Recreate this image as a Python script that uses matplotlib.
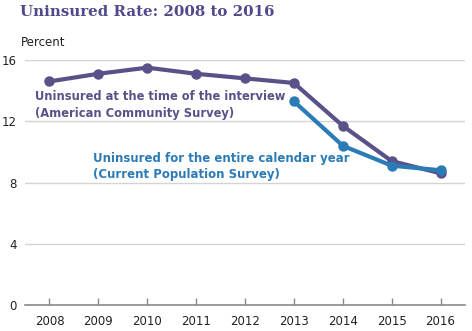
import matplotlib
matplotlib.use("Agg")
import matplotlib.pyplot as plt

years = [2008, 2009, 2010, 2011, 2012, 2013, 2014, 2015, 2016]
acs_rate = [14.6, 15.1, 15.5, 15.1, 14.8, 14.5, 11.7, 9.4, 8.6]
cps_years = [2013, 2014, 2015, 2016]
cps_rate = [13.3, 10.4, 9.1, 8.8]
y_ticks = [0, 4, 8, 12, 16]

PURPLE = "#5b5189"
BLUE = "#2a7bb6"
TITLE = "#504a8a"

W, H = 472, 331
fig = plt.figure(figsize=(W / 100, H / 100), dpi=100)
ax = fig.add_axes([25 / W, 1 - 305 / H, 440 / W, 245 / H])

ax.set_xlim(2007.5, 2016.5)
ax.set_ylim(0, 16)
ax.set_yticks(y_ticks)
ax.set_xticks(years)
ax.grid(axis="y", color="#d4d4d4", linewidth=1)
ax.set_axisbelow(True)
for side in ("top", "right", "left"):
    ax.spines[side].set_visible(False)
ax.spines["bottom"].set_color("#8a8a8a")
ax.spines["bottom"].set_linewidth(1.2)
ax.tick_params(axis="y", length=0, pad=6, labelsize=8.5, labelcolor="#222222")
ax.tick_params(axis="x", direction="in", length=5, width=1, color="#8a8a8a",
               pad=7, labelsize=8.5, labelcolor="#222222")

ax.plot(years, acs_rate, color=PURPLE, linewidth=3, marker="o",
        markersize=6.5, solid_capstyle="round", clip_on=False, zorder=3)
ax.plot(cps_years, cps_rate, color=BLUE, linewidth=3, marker="o",
        markersize=6.5, solid_capstyle="round", clip_on=False, zorder=4)

fig.text(20 / W, 1 - 12 / H, "Uninsured Rate: 2008 to 2016", color=TITLE,
         fontsize=10.8, fontweight="bold", family="DejaVu Serif",
         ha="left", va="center")
fig.text(21 / W, 1 - 42 / H, "Percent", color="#222222", fontsize=8.5,
         ha="left", va="center")

fig.text(35 / W, 1 - 105 / H,
         "Uninsured at the time of the interview\n(American Community Survey)",
         color=PURPLE, fontsize=8.3, fontweight="bold", ha="left", va="center",
         linespacing=1.3)
fig.text(93 / W, 1 - 166.5 / H,
         "Uninsured for the entire calendar year\n(Current Population Survey)",
         color=BLUE, fontsize=8.5, fontweight="bold", ha="left", va="center",
         linespacing=1.3)

fig.savefig("out.png", dpi=100)
